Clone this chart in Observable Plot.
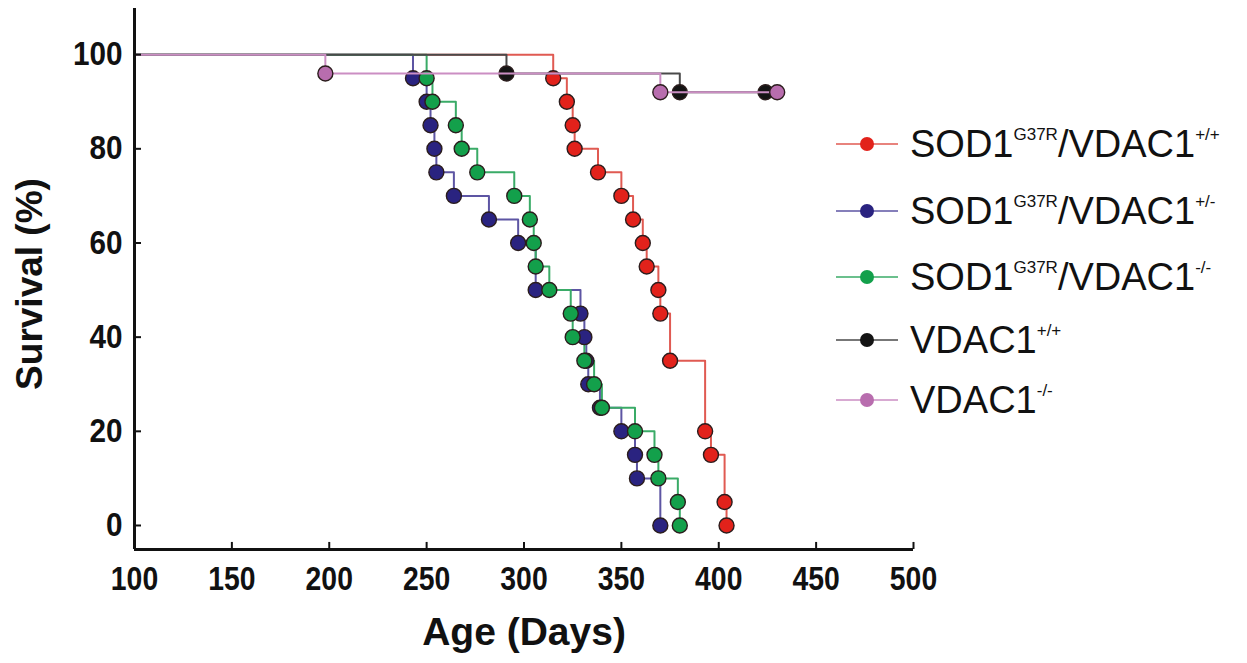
<!DOCTYPE html>
<html><head><meta charset="utf-8">
<script src="https://cdn.jsdelivr.net/npm/d3@7"></script>
<script src="https://cdn.jsdelivr.net/npm/@observablehq/plot@0.6"></script>
<style>
body{margin:0;background:#fff;}
#chart{width:1247px;height:663px;}
</style></head><body><div id="chart"></div>
<script>
// ---- data ----
const redDays = [315, 322, 325, 326, 338, 350, 356, 361, 363, 369, 370, 375, 393, 396, 403, 404];
const redSurvival = [95, 90, 85, 80, 75, 70, 65, 60, 55, 50, 45, 35, 20, 15, 5, 0];
const blueDays = [243, 250, 252, 254, 255, 264, 282, 297, 306, 329, 331, 332, 333, 339, 350, 357, 358, 370];
const blueSurvival = [95, 90, 85, 80, 75, 70, 65, 60, 50, 45, 40, 35, 30, 25, 20, 15, 10, 0];
const greenDays = [250, 253, 265, 268, 276, 295, 303, 305, 306, 313, 324, 325, 331, 336, 340, 357, 367, 369, 379, 380];
const greenSurvival = [95, 90, 85, 80, 75, 70, 65, 60, 55, 50, 45, 40, 35, 30, 25, 20, 15, 10, 5, 0];
const blackDays = [291, 380, 424];
const blackSurvival = [96, 92, 92];
const pinkDays = [198, 370, 430];
const pinkSurvival = [96, 92, 92];
const xTicks = [100, 150, 200, 250, 300, 350, 400, 450, 500];
const yTicks = [0, 20, 40, 60, 80, 100];
const startDay = 100, startSurvival = 100;

// legend label parts: [main, sup, main, sup]
const legendLabels = [
  ["SOD1", "G37R", "/VDAC1", "+/+"],
  ["SOD1", "G37R", "/VDAC1", "+/-"],
  ["SOD1", "G37R", "/VDAC1", "-/-"],
  ["VDAC1", "+/+"],
  ["VDAC1", "-/-"]
];

// ---- styles ----
const fills = ["#e2221b", "#2a2380", "#13a04b", "#141414", "#b86dae"];
const strokes = ["#e05a52", "#5d55a3", "#3aab67", "#4a4a4a", "#cb8ec3"];
const dotStroke = "#2b1d1d";

function build(days, surv) {
  return [{day: startDay, surv: startSurvival, start: true}]
    .concat(days.map((d, i) => ({day: d, surv: surv[i], start: false})));
}
const series = [
  build(redDays, redSurvival),
  build(blueDays, blueSurvival),
  build(greenDays, greenSurvival),
  build(blackDays, blackSurvival),
  build(pinkDays, pinkSurvival)
];

const yMin = -5.1, yMax = 109.8;
const W = 1247, H = 663;
const font = "'Liberation Sans', Arial, Helvetica, sans-serif";

const marks = [];
[0, 1, 2].forEach(i => marks.push(Plot.line(series[i], {x: "day", y: "surv", curve: "step-after", stroke: strokes[i], strokeWidth: 2})));
[0, 1, 2].forEach(i => marks.push(Plot.dot(series[i].filter(d => !d.start), {x: "day", y: "surv", r: 7.5, fill: fills[i], stroke: dotStroke, strokeWidth: 1.4})));
[3, 4].forEach(i => {
  marks.push(Plot.line(series[i], {x: "day", y: "surv", curve: "step-after", stroke: strokes[i], strokeWidth: 2}));
  marks.push(Plot.dot(series[i].filter(d => !d.start), {x: "day", y: "surv", r: 7.5, fill: fills[i], stroke: dotStroke, strokeWidth: 1.4}));
});

const plot = Plot.plot({
  width: W, height: H,
  marginLeft: 134, marginRight: 334, marginTop: 8, marginBottom: 114,
  x: {domain: [100, 500], axis: null},
  y: {domain: [yMin, yMax], axis: null},
  style: {background: "#fff", fontFamily: font, overflow: "visible"},
  marks: [
    ...marks,
    Plot.ruleX([100], {y1: yMin, y2: yMax, stroke: "#111", strokeWidth: 3}),
    Plot.ruleY([yMin], {x1: 100, x2: 500, stroke: "#111", strokeWidth: 3}),
    Plot.ruleX(xTicks.slice(1), {y1: yMin, y2: yMin + 1.5, stroke: "#111", strokeWidth: 2}),
    Plot.ruleY(yTicks, {x1: 100, x2: 103.6, stroke: "#111", strokeWidth: 2}),
    Plot.axisX(xTicks, {tickSize: 0, tickPadding: 17, fontSize: 33, fontWeight: "bold", fill: "#111", label: null}),
    Plot.axisY(yTicks, {tickSize: 0, tickPadding: 12, fontSize: 33, fontWeight: "bold", fill: "#111", label: null}),
    Plot.text(["Age (Days)"], {frameAnchor: "bottom", dy: 95, fontSize: 39, fontWeight: "bold", fill: "#111"}),
    Plot.text(["Survival (%)"], {frameAnchor: "left", textAnchor: "middle", dx: -104, dy: 5, rotate: -90, fontSize: 37, fontWeight: "bold", fill: "#111"})
  ]
});
document.getElementById("chart").appendChild(plot);

const svg = d3.select(plot);
// narrow the tick labels (condensed look of the reference)
function narrow(selector, s) {
  svg.selectAll(selector).each(function() {
    const x = +(this.getAttribute("x") || 0);
    const t = this.getAttribute("transform") || "";
    this.setAttribute("transform", `${t} translate(${x},0) scale(${s},1) translate(${-x},0)`);
  });
}
narrow('g[aria-label="x-axis tick label"] text', 0.86);
narrow('g[aria-label="y-axis tick label"] text', 0.9);

// legend (inside the svg, right side)
const rowsY = [144, 211, 277, 340, 400];
const lg = svg.append("g").attr("font-family", font).attr("fill", "#111").attr("text-anchor", "start");
legendLabels.forEach((parts, i) => {
  const y = rowsY[i];
  lg.append("line").attr("x1", 836).attr("x2", 898).attr("y1", y).attr("y2", y).attr("stroke", strokes[i]).attr("stroke-width", 1.6);
  lg.append("circle").attr("cx", 867).attr("cy", y).attr("r", 7).attr("fill", fills[i]);
  const t = lg.append("text").attr("x", 910).attr("y", y + 13).attr("font-size", 38).attr("text-anchor", "start");
  parts.forEach((p, j) => {
    const sup = j % 2 === 1;
    t.append("tspan").attr("font-size", sup ? 17 : 38).attr("dy", sup ? -17 : (j > 0 ? 17 : 0)).text(p);
  });
});
</script>
</body></html>
